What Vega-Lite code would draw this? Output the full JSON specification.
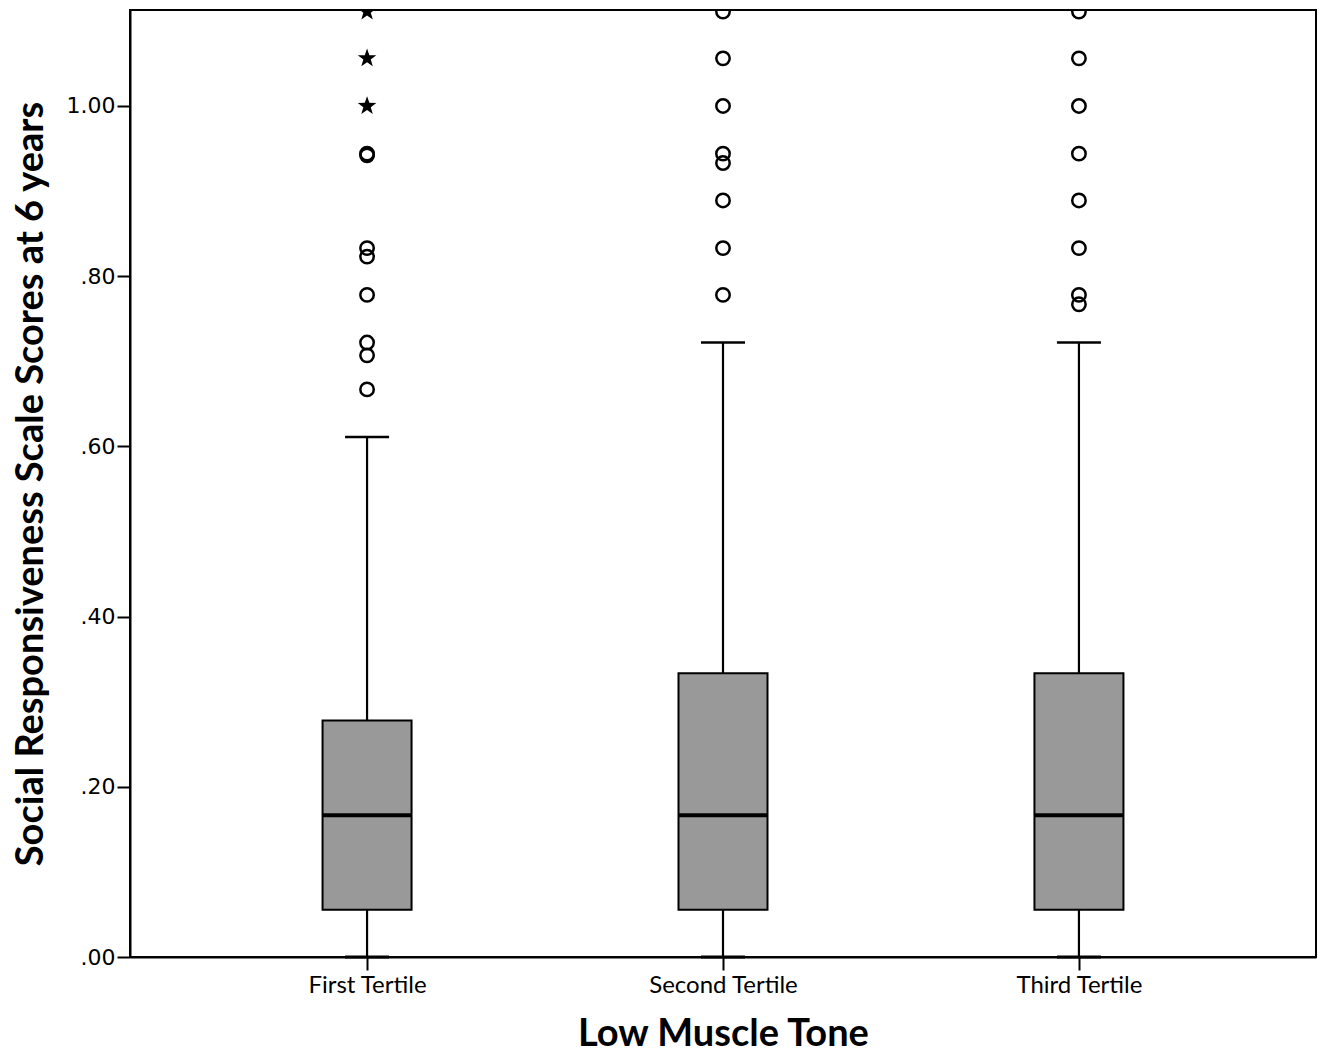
{
  "$schema": "https://vega.github.io/schema/vega-lite/v6.json",
  "width": 1186,
  "height": 947,
  "autosize": {"type": "none"},
  "padding": {"left": 130, "top": 10, "right": 10, "bottom": 98},
  "background": "white",
  "config": {
    "view": {"stroke": "black", "strokeWidth": 2},
    "axis": {
      "domainColor": "black",
      "domainWidth": 2,
      "tickColor": "black",
      "tickWidth": 2,
      "tickSize": 13,
      "grid": false,
      "labelColor": "black",
      "titleColor": "black"
    }
  },
  "datasets": {
    "boxes": [
      {"group": "First Tertile", "lo": 0, "q1": 0.0556, "median": 0.1667, "q3": 0.2778, "hi": 0.6111},
      {"group": "Second Tertile", "lo": 0, "q1": 0.0556, "median": 0.1667, "q3": 0.3333, "hi": 0.7222},
      {"group": "Third Tertile", "lo": 0, "q1": 0.0556, "median": 0.1667, "q3": 0.3333, "hi": 0.7222}
    ],
    "outliers": [
      {"group": "First Tertile", "value": 0.944},
      {"group": "First Tertile", "value": 0.942},
      {"group": "First Tertile", "value": 0.833},
      {"group": "First Tertile", "value": 0.823},
      {"group": "First Tertile", "value": 0.778},
      {"group": "First Tertile", "value": 0.722},
      {"group": "First Tertile", "value": 0.707},
      {"group": "First Tertile", "value": 0.667},
      {"group": "Second Tertile", "value": 1.111},
      {"group": "Second Tertile", "value": 1.056},
      {"group": "Second Tertile", "value": 1.0},
      {"group": "Second Tertile", "value": 0.944},
      {"group": "Second Tertile", "value": 0.933},
      {"group": "Second Tertile", "value": 0.889},
      {"group": "Second Tertile", "value": 0.833},
      {"group": "Second Tertile", "value": 0.778},
      {"group": "Third Tertile", "value": 1.111},
      {"group": "Third Tertile", "value": 1.056},
      {"group": "Third Tertile", "value": 1.0},
      {"group": "Third Tertile", "value": 0.944},
      {"group": "Third Tertile", "value": 0.889},
      {"group": "Third Tertile", "value": 0.833},
      {"group": "Third Tertile", "value": 0.778},
      {"group": "Third Tertile", "value": 0.767}
    ],
    "extremes": [
      {"group": "First Tertile", "value": 1.111},
      {"group": "First Tertile", "value": 1.056},
      {"group": "First Tertile", "value": 1.0}
    ]
  },
  "encoding": {
    "x": {
      "field": "group",
      "type": "nominal",
      "sort": ["First Tertile", "Second Tertile", "Third Tertile"],
      "scale": {"type": "point", "padding": 0.666},
      "axis": {
        "title": "Low Muscle Tone",
        "titleFont": "Lato",
        "titleFontSize": 38,
        "titleFontWeight": "bold",
        "titlePadding": 18,
        "labelFont": "Lato",
        "labelFontSize": 24,
        "labelAngle": 0,
        "labelPadding": 3
      }
    }
  },
  "layer": [
    {
      "data": {"name": "boxes"},
      "mark": {"type": "rule", "color": "black", "strokeWidth": 2.2},
      "encoding": {
        "y": {
          "field": "lo",
          "type": "quantitative",
          "scale": {"domain": [0, 1.1128], "nice": false, "zero": false},
          "axis": {
            "title": "Social Responsiveness Scale Scores at 6 years",
            "titleFont": "Lato",
            "titleFontSize": 38,
            "titleFontWeight": "bold",
            "titlePadding": 16,
            "labelFont": "DejaVu Sans",
            "labelFontSize": 22,
            "labelPadding": 2,
            "values": [0, 0.2, 0.4, 0.6, 0.8, 1.0],
            "labelExpr": "datum.value < 1 ? replace(format(datum.value, '.2f'), '0.', '.') : format(datum.value, '.2f')"
          }
        },
        "y2": {"field": "hi"}
      }
    },
    {
      "data": {"name": "boxes"},
      "mark": {"type": "tick", "color": "black", "opacity": 1, "size": 44, "thickness": 2.5},
      "encoding": {"y": {"field": "hi", "type": "quantitative"}}
    },
    {
      "data": {"name": "boxes"},
      "mark": {"type": "tick", "color": "black", "opacity": 1, "size": 44, "thickness": 3},
      "encoding": {"y": {"field": "lo", "type": "quantitative"}}
    },
    {
      "data": {"name": "boxes"},
      "mark": {"type": "bar", "size": 89, "fill": "#999999", "stroke": "black", "strokeWidth": 2, "opacity": 1},
      "encoding": {
        "y": {"field": "q1", "type": "quantitative"},
        "y2": {"field": "q3"}
      }
    },
    {
      "data": {"name": "boxes"},
      "mark": {"type": "tick", "color": "black", "opacity": 1, "size": 88, "thickness": 4},
      "encoding": {"y": {"field": "median", "type": "quantitative"}}
    },
    {
      "data": {"name": "outliers"},
      "mark": {"type": "point", "shape": "circle", "filled": false, "stroke": "black", "strokeWidth": 2.5, "size": 180, "clip": true, "opacity": 1},
      "encoding": {
        "y": {"field": "value", "type": "quantitative"}
      }
    },
    {
      "data": {"name": "extremes"},
      "mark": {"type": "point", "shape": "M0,-1L0.235,-0.324L0.951,-0.309L0.380,0.124L0.588,0.809L0,0.4L-0.588,0.809L-0.380,0.124L-0.951,-0.309L-0.235,-0.324Z", "filled": true, "fill": "black", "strokeWidth": 0, "size": 380, "clip": true, "opacity": 1},
      "encoding": {
        "y": {"field": "value", "type": "quantitative"}
      }
    }
  ]
}
